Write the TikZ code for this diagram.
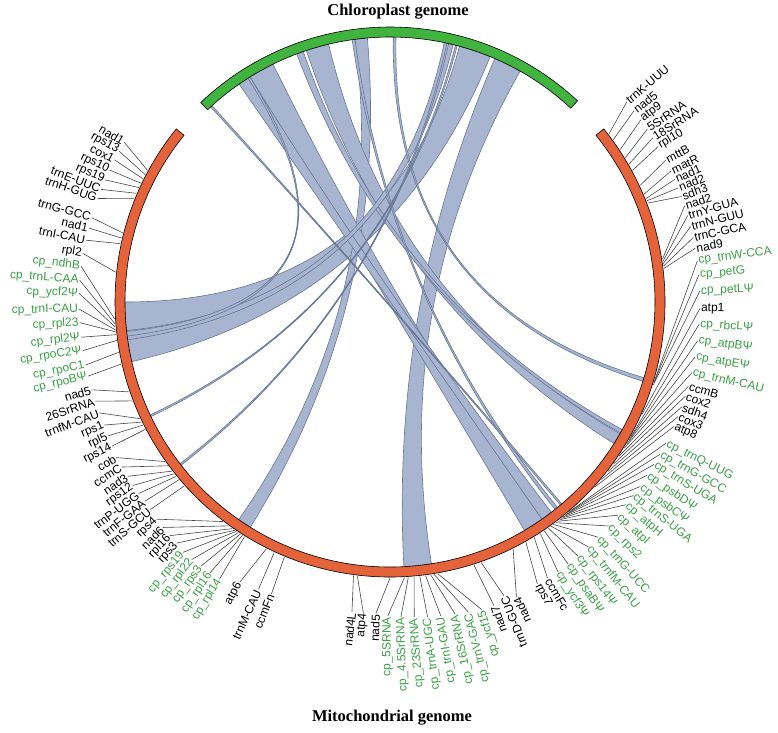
\documentclass[tikz,border=0pt]{standalone}
\usepackage{fontspec}
\setmainfont{Liberation Sans}
\newfontfamily\titlefont{Liberation Serif}
\usetikzlibrary{positioning}

\definecolor{mitoorange}{RGB}{228,99,58}
\definecolor{chlorogreen}{RGB}{64,180,62}
\definecolor{cpgreen}{RGB}{58,160,68}
\definecolor{linkfill}{RGB}{168,181,209}
\definecolor{linkedge}{RGB}{104,119,150}
\definecolor{leadergray}{RGB}{70,70,70}

% ribbon between two arcs of the inner circle
\newcommand{\ribbonlink}[4]{%
  \filldraw[link] (#1:265pt) arc[start angle=#1, end angle=#2, radius=265pt]
    .. controls (#2:88pt) and (#3:88pt) .. (#3:265pt)
    arc[start angle=#3, end angle=#4, radius=265pt]
    .. controls (#4:88pt) and (#1:88pt) .. cycle;}

\begin{document}
\begin{tikzpicture}[
  link/.style={fill=linkfill, draw=linkedge, line width=0.6pt},
  ideogram/.style={draw=black, line width=0.6pt},
  leader/.style={draw=leadergray, line width=0.6pt},
  lab/.style={inner sep=1pt, font=\fontsize{12}{14}\selectfont},
  genome/.style={font=\titlefont\bfseries\fontsize{16.5}{18}\selectfont}
]
\useasboundingbox (-390pt,-430pt) rectangle (388pt,302pt);

% links
\ribbonlink{67.8}{74.8}{180}{193}
\ribbonlink{60.6}{66.7}{273}{279}
\ribbonlink{94.9}{97.6}{235.2}{238.2}
\ribbonlink{103.4}{108.4}{327.7}{330.2}
\ribbonlink{109.1}{110.6}{330.4}{331.2}
\ribbonlink{116.2}{121.9}{300.5}{305}
\ribbonlink{121.9}{124.7}{305}{307.5}
\ribbonlink{76.2}{78.2}{186.2}{188.2}
\ribbonlink{121.9}{122.4}{186.4}{187.4}
\ribbonlink{88.7}{89.3}{342.6}{343.4}
\ribbonlink{97.6}{98.2}{308.5}{309.2}
\ribbonlink{75.3}{75.7}{205.2}{205.6}
\ribbonlink{77.2}{77.6}{217.6}{218}
\ribbonlink{132.2}{132.6}{310}{310.4}

% ideograms
\filldraw[ideogram, fill=mitoorange] (141:265pt) arc[start angle=141, end angle=399, radius=265pt]
  -- (399:275pt) arc[start angle=399, end angle=141, radius=275pt] -- cycle;
\filldraw[ideogram, fill=chlorogreen] (47:265pt) arc[start angle=47, end angle=133.5, radius=265pt]
  -- (133.5:275pt) arc[start angle=133.5, end angle=47, radius=275pt] -- cycle;

\node[genome] (cpgenome) at (8pt,290pt) {Chloroplast genome};
\node[genome] (mtgenome) at (2pt,-416pt) {Mitochondrial genome};

% labels, left half
\foreach \la/\ga/\lr/\txt/\col [count=\i] in {
  149.0/151.5/310/nad1/black, 150.9/152.5/310/rps13/black, 152.7/153.5/310/cox1/black,
  154.8/154.5/310/rps10/black, 156.8/155.5/310/rps19/black, 158.7/156.8/310/trnE-UUC/black,
  160.5/158.0/310/trnH-GUG/black, 164.2/165.5/310/trnG-GCC/black, 166.2/166.6/310/nad1/black,
  168.5/167.8/310/trnI-CAU/black, 171.0/173.8/311/rpl2/black,
  173.4/183.5/311/cp\_ndhB/cpgreen, 176.0/184.5/311/cp\_trnL-CAA/cpgreen,
  178.4/185.2/311/cp\_ycf2Ψ/cpgreen, 181.3/185.8/311/cp\_trnI-CAU/cpgreen,
  183.8/186.2/311/cp\_rpl23/cpgreen, 186.5/186.8/311/cp\_rpl2Ψ/cpgreen,
  189.0/188.0/311/cp\_rpoC2Ψ/cpgreen, 191.7/190.5/311/cp\_rpoC1/cpgreen,
  193.8/193.0/311/cp\_rpoBΨ/cpgreen,
  196.4/199.0/311/nad5/black, 198.6/201.0/311/26SrRNA/black, 200.9/205.0/311/trnfM-CAU/black,
  203.3/205.8/311/rps1/black, 205.4/206.5/312/rpl5/black, 207.4/207.5/313/rps14/black,
  209.6/215.3/315/cob/black, 211.6/216.4/315/ccmC/black, 213.6/217.8/315/nad3/black,
  215.5/218.5/316/rps12/black, 217.3/219.2/316/trnP-UGG/black, 219.1/220.1/316/trnF-GAA/black,
  220.9/221.8/317/trnS-GCU/black, 222.9/232.7/319/rps4/black, 224.8/234.2/320/nad6/black,
  226.7/235.2/321/rpl16/black, 228.5/235.8/322/rps3/black,
  230.4/236.2/325/cp\_rps19/cpgreen, 232.4/236.7/325/cp\_rpl22/cpgreen,
  234.4/237.2/325/cp\_rps3/cpgreen, 236.4/237.7/325/cp\_rpl16/cpgreen,
  238.4/238.2/325/cp\_rpl14/cpgreen,
  241.8/243.4/318/atp6/black, 245.4/245.2/316/trnM-CAU/black, 247.9/247.5/315/ccmFn/black,
  263.0/262.4/312/nad4L/black, 265.1/263.2/312/atp4/black, 267.4/270.0/312/nad5/black,
  269.6/273.0/314/cp\_5SRNA/cpgreen, 272.0/273.8/315/cp\_4.5SrRNA/cpgreen,
  274.4/275.0/316/cp\_23SrRNA/cpgreen, 276.8/276.2/317/cp\_trnA-UGC/cpgreen,
  279.2/277.4/318/cp\_trnI-GAU/cpgreen, 281.8/278.5/319/cp\_16SrRNA/cpgreen,
  284.2/279.2/320/cp\_trnV-GAC/cpgreen, 286.6/280.0/321/cp\_ycf15/cpgreen,
  288.9/287.7/321/nad7/black, 291.2/289.3/315/trnD-GUC/black, 293.2/296.5/321/nad4/black}
{
  \node[lab, text=\col, anchor=east, rotate=\la-180] (L\i) at (\la:\lr pt) {\txt};
  \coordinate (gl\i) at (\ga:276pt);
  \draw[leader] (gl\i) -- (L\i.east);
}

% labels, right half
\foreach \la/\ga/\lr/\txt/\col [count=\i] in {
  297.6/299.5/318/rps7/black, 299.7/301.5/318/ccmFc/black,
  301.9/303.0/318/cp\_ycf3Ψ/cpgreen, 304.2/304.0/317/cp\_psaBΨ/cpgreen,
  306.5/305.0/316/cp\_rps14Ψ/cpgreen, 309.0/305.7/315/cp\_trnfM-CAU/cpgreen,
  311.5/306.3/314/cp\_trnG-UCC/cpgreen, 314.3/306.9/313/cp\_rps2/cpgreen,
  316.9/307.4/312/cp\_atpI/cpgreen, 319.3/307.9/311/cp\_atpH/cpgreen,
  321.5/308.4/311/cp\_trnS-UGA/cpgreen, 323.6/308.9/311/cp\_psbCΨ/cpgreen,
  326.0/309.4/310/cp\_psbDΨ/cpgreen, 328.4/309.9/310/cp\_trnS-UGA/cpgreen,
  330.6/310.4/310/cp\_trnG-GCC/cpgreen, 332.9/310.9/310/cp\_trnQ-UUG/cpgreen,
  336.3/318.0/310/atp8/black, 338.3/320.0/310/cox3/black, 340.2/322.0/310/sdh4/black,
  342.3/324.0/310/cox2/black, 344.2/326.0/310/ccmB/black,
  346.8/328.0/310/cp\_trnM-CAU/cpgreen, 349.8/329.0/310/cp\_atpEΨ/cpgreen,
  352.8/330.0/310/cp\_atpBΨ/cpgreen, 355.9/331.0/310/cp\_rbcLΨ/cpgreen,
  358.8/336.0/310/atp1/black,
  362.0/342.5/310/cp\_petLΨ/cpgreen, 365.0/343.0/310/cp\_petG/cpgreen,
  367.6/343.5/310/cp\_trnW-CCA/cpgreen,
  10.0/7.0/310/nad9/black, 12.0/7.5/310/trnC-GCA/black, 14.1/8.0/310/trnN-GUU/black,
  16.2/8.5/310/trnY-GUA/black, 18.1/9.0/310/nad2/black, 19.9/21.0/310/sdh3/black,
  21.6/21.5/310/nad2/black, 23.3/22.0/310/nad1/black, 25.0/23.0/310/matR/black,
  27.2/25.0/310/mttB/black, 30.1/28.5/310/rpl10/black, 32.0/30.0/310/18SrRNA/black,
  33.9/31.5/310/5SrRNA/black, 36.0/33.5/310/atp9/black, 38.1/36.0/310/nad5/black,
  40.2/37.5/310/trnK-UUU/black}
{
  \node[lab, text=\col, anchor=west, rotate=\la] (R\i) at (\la:\lr pt) {\txt};
  \coordinate (gr\i) at (\ga:276pt);
  \draw[leader] (gr\i) -- (R\i.west);
}
\end{tikzpicture}
\end{document}
